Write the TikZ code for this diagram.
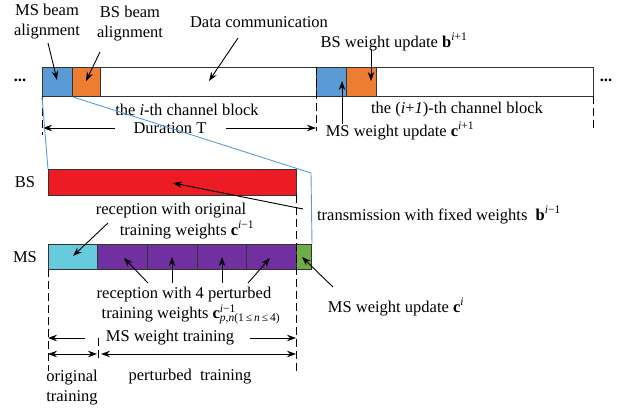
\documentclass[tikz,border=0pt]{standalone}
\usepackage{fontspec}
\setmainfont{Liberation Serif}
\usetikzlibrary{arrows.meta}
\definecolor{cblue}{HTML}{5B9BD5}
\definecolor{corange}{HTML}{ED7D31}
\definecolor{cred}{HTML}{ED1C24}
\definecolor{ccyan}{HTML}{66CCDD}
\definecolor{cpurple}{HTML}{7030A0}
\definecolor{cgreen}{HTML}{70AD47}
\definecolor{cedge}{HTML}{333333}
\newcommand{\supi}[1]{\textsuperscript{#1}}
\begin{document}
\begin{tikzpicture}[x=1pt,y=-1pt,
  font=\fontsize{16.5}{20}\selectfont,
  blk/.style={draw=cedge, line width=1pt, inner sep=0pt, anchor=north west, minimum height=29pt},
  lowblk/.style={draw=cedge, line width=1pt, inner sep=0pt, anchor=north west, minimum height=25pt},
  lbl/.style={inner sep=0pt, align=center},
  arr/.style={draw=black, line width=0.9pt, -{Stealth[length=9pt,width=6.5pt]}},
  darr/.style={draw=black, line width=0.9pt, {Stealth[length=9pt,width=6.5pt]}-{Stealth[length=9pt,width=6.5pt]}},
  dsh/.style={draw=black, line width=0.9pt, dash pattern=on 8pt off 4pt},
  zoomline/.style={draw=cblue, line width=0.9pt}]
\useasboundingbox (0,0) rectangle (624,414);

% top row
\node[blk, fill=cblue, minimum width=30pt] (msa) at (42,67) {};
\node[blk, fill=corange, minimum width=28pt] (bsa) at (72,67) {};
\node[blk, fill=white, minimum width=216pt] (dat) at (100,67) {};
\node[blk, fill=cblue, minimum width=30pt] (msb) at (316,67) {};
\node[blk, fill=corange, minimum width=30pt] (bsb) at (346,67) {};
\node[blk, fill=white, minimum width=217pt] (datb) at (376,67) {};

\node[lbl] (dl) at (20,80) {\textbf{...}};
\node[lbl] (dr) at (606,80) {\textbf{...}};

\coordinate (v1t) at (42,96);  \coordinate (v1b) at (42,135);
\coordinate (v2t) at (316,67); \coordinate (v2b) at (316,131);
\coordinate (v3t) at (593,96); \coordinate (v3b) at (593,129);
\draw[dsh] (v1t) -- (v1b);
\draw[dsh] (v2t) -- (v2b);
\draw[dsh] (v3t) -- (v3b);

% top labels
\node[lbl] (msbeam) at (47,22) {MS beam\\alignment};
\node[lbl] (bsbeam) at (130,24) {BS beam\\alignment};
\node[lbl] (datl) at (259,22) {Data communication};
\node[lbl] (bswu) at (394,42) {BS weight update \textbf{b}\supi{\textit{i}+1}};
\node[lbl] (blk1) at (187,110) {the \textit{i}-th channel block};
\node[lbl] (blk2) at (457,110) {the (\textit{i}+\textit{1})-th channel block};
\node[lbl] (dur) at (170,128) {Duration T};
\node[lbl] (mswu) at (400,131) {MS weight update \textbf{c}\supi{\textit{i}+1}};

\coordinate (a1s) at (48,43);   \coordinate (a1e) at (57,80);
\coordinate (a2s) at (100,52);  \coordinate (a2e) at (86,81);
\coordinate (a3s) at (238,38);  \coordinate (a3e) at (209,81);
\coordinate (a4s) at (371,49);  \coordinate (a4e) at (371,81);
\coordinate (a5s) at (342,124); \coordinate (a5e) at (342,81);
\draw[arr] (a1s) -- (a1e);
\draw[arr] (a2s) -- (a2e);
\draw[arr] (a3s) -- (a3e);
\draw[arr] (a4s) -- (a4e);
\draw[arr] (a5s) -- (a5e);

\coordinate (dl1) at (115,128); \coordinate (dl2) at (43,128);
\coordinate (dr1) at (226,128); \coordinate (dr2) at (316,128);
\draw[arr] (dl1) -- (dl2);
\draw[arr] (dr1) -- (dr2);

% lower part
\node[lowblk, fill=cred, minimum width=248pt, minimum height=26pt] (bsbox) at (48,169) {};
\node[lowblk, fill=ccyan, minimum width=49pt] (m0) at (48,244) {};
\node[lowblk, fill=cpurple, minimum width=50pt] (p1) at (97,244) {};
\node[lowblk, fill=cpurple, minimum width=50pt] (p2) at (147,244) {};
\node[lowblk, fill=cpurple, minimum width=49pt] (p3) at (197,244) {};
\node[lowblk, fill=cpurple, minimum width=50pt] (p4) at (246,244) {};
\node[lowblk, fill=cgreen, minimum width=15pt] (gr) at (296,244) {};

\coordinate (zr) at (311,173);
\draw[zoomline] (msa.south west) -- (bsbox.north west);
\draw[zoomline] (msa.south east) -- (zr) -- (gr.north east);

\node[lbl] (bsl) at (25,182) {BS};
\node[lbl] (msl) at (25,257) {MS};

\coordinate (w1t) at (48,269);  \coordinate (w1b) at (48,371);
\coordinate (w2t) at (296,195); \coordinate (w2b) at (296,374);
\coordinate (w3t) at (98,338);  \coordinate (w3b) at (98,362);
\draw[dsh] (w1t) -- (w1b);
\draw[dsh] (w2t) -- (w2b);
\draw[dsh] (w3t) -- (w3b);

\node[lbl] (rec1a) at (171,211) {reception with original};
\node[lbl] (rec1b) at (187,230) {training weights \textbf{c}\supi{\textit{i}−1}};
\node[lbl] (tx) at (439,215) {transmission with fixed weights \ \textbf{b}\supi{\textit{i}−1}};
\node[lbl] (mswi) at (396,307) {MS weight update \textbf{c}\supi{\textit{i}}};
\node[lbl] (rec2a) at (184,295) {reception with 4 perturbed};
\node[lbl] (rec2b) at (191,314) {training weights \textbf{c}\makebox[0pt][l]{\supi{\textit{i}−1}}\textsubscript{\textit{p},\textit{n}(1\,≤\,\textit{n}\,≤\,4)}};
\node[lbl] (mswt) at (170,338) {MS weight training};
\node[lbl, font=\fontsize{16.5}{20}\selectfont] (orig) at (72,388) {original\\training};
\node[lbl] (pert) at (190,377) {perturbed\ \ training};

\coordinate (b1s) at (108,223); \coordinate (b1e) at (73,256);
\coordinate (b2s) at (303,209); \coordinate (b2e) at (173,183);
\coordinate (b3s) at (333,287); \coordinate (b3e) at (302,257);
\draw[arr] (b1s) -- (b1e);
\draw[arr] (b2s) -- (b2e);
\draw[arr] (b3s) -- (b3e);

\coordinate (c1s) at (148,283); \coordinate (c1e) at (124,258);
\coordinate (c2s) at (172,283); \coordinate (c2e) at (172,257);
\coordinate (c3s) at (222,283); \coordinate (c3e) at (222,257);
\coordinate (c4s) at (248,283); \coordinate (c4e) at (270,258);
\draw[arr] (c1s) -- (c1e);
\draw[arr] (c2s) -- (c2e);
\draw[arr] (c3s) -- (c3e);
\draw[arr] (c4s) -- (c4e);

\coordinate (t1s) at (85,338);  \coordinate (t1e) at (48,338);
\coordinate (t2s) at (250,338); \coordinate (t2e) at (296,338);
\draw[arr] (t1s) -- (t1e);
\draw[arr] (t2s) -- (t2e);
\coordinate (o1) at (48,354);  \coordinate (o2) at (97,354);
\coordinate (q1) at (101,354); \coordinate (q2) at (296,354);
\draw[darr] (o1) -- (o2);
\draw[darr] (q1) -- (q2);
\end{tikzpicture}
\end{document}
